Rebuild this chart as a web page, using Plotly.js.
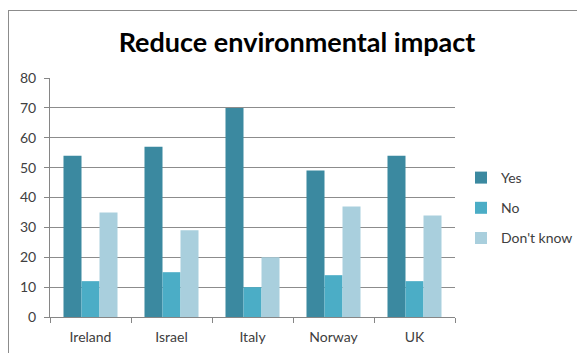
<!DOCTYPE html>
<html>
<head>
<meta charset="utf-8">
<script src="https://cdn.plot.ly/plotly-3.0.1.min.js"></script>
<style>
  html, body { margin: 0; padding: 0; background: #ffffff; overflow: hidden; }
  #frame { position: absolute; left: 8px; top: 10px; width: 620px; height: 400px; border: 1px solid #8c8c8c; box-sizing: border-box; }
  #chart { position: absolute; left: 0; top: 0; width: 577px; height: 353px; }
</style>
</head>
<body>
<div id="frame"></div>
<div id="chart"></div>
<script>
// Survey answers per country
const countries = ["Ireland", "Israel", "Italy", "Norway", "UK"];
const yesValues = [54, 57, 70, 49, 54];
const noValues = [12, 15, 10, 14, 12];
const dontKnowValues = [35, 29, 20, 37, 34];
const seriesNames = ["Yes", "No", "Don't know"];
const yTicks = [0, 10, 20, 30, 40, 50, 60, 70, 80];

const colors = ["#3b89a0", "#4badc6", "#a9cfdd"];
const series = [yesValues, noValues, dontKnowValues];

const traces = series.map((vals, i) => ({
  type: "bar",
  name: seriesNames[i],
  x: countries,
  y: vals,
  legendgroup: "g" + i,
  marker: { color: colors[i], line: { width: 0 } },
  hoverinfo: "x+y+name"
}));

const font = "Lato, 'Open Sans', 'DejaVu Sans', sans-serif";

const layout = {
  width: 577,
  height: 353,
  paper_bgcolor: "rgba(0,0,0,0)",
  plot_bgcolor: "rgba(0,0,0,0)",
  margin: { l: 50, r: 122, t: 78, b: 36, pad: 0 },
  barmode: "group",
  bargap: 0.333,
  bargroupgap: 0,
  font: { family: font, size: 14, color: "#404040" },
  title: {
    text: "<b>Reduce environmental impact</b>",
    font: { family: font, size: 27, color: "#000000" },
    x: 297 / 577,
    xanchor: "center",
    xref: "container",
    y: 1 - 43 / 353,
    yanchor: "middle",
    yref: "container"
  },
  xaxis: {
    type: "category",
    showgrid: false,
    showline: true,
    linecolor: "#868686",
    linewidth: 1,
    ticks: "outside",
    tickson: "boundaries",
    ticklen: 5,
    tickcolor: "#868686",
    ticklabelstandoff: 7,
    tickfont: { family: font, size: 14, color: "#404040" },
    zeroline: false,
    fixedrange: true
  },
  yaxis: {
    range: [0, 80],
    tickvals: yTicks,
    ticktext: yTicks.map(String),
    showgrid: true,
    gridcolor: "#8c8c8c",
    gridwidth: 1,
    showline: true,
    linecolor: "#868686",
    linewidth: 1,
    ticks: "outside",
    ticklen: 5,
    tickcolor: "#868686",
    ticklabelstandoff: 5,
    tickfont: { family: font, size: 14, color: "#404040" },
    zeroline: false,
    fixedrange: true
  },
  showlegend: true,
  legend: {
    x: 461 / 577,
    xref: "container",
    xanchor: "left",
    y: 0.5 + (353 / 2 - 208) / 353,
    yref: "container",
    yanchor: "middle",
    traceorder: "grouped",
    tracegroupgap: 9,
    itemwidth: 30,
    bgcolor: "rgba(0,0,0,0)",
    font: { family: font, size: 14, color: "#404040" }
  }
};

Plotly.newPlot("chart", traces, layout, { displayModeBar: false, staticPlot: true });
</script>
</body>
</html>
